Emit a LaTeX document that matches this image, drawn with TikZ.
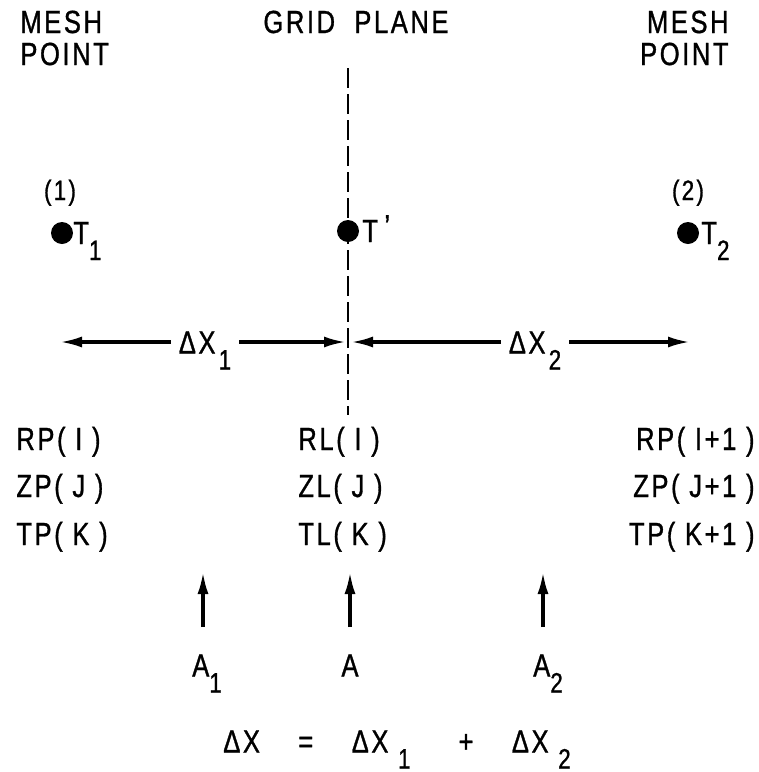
\documentclass[tikz,border=0pt]{standalone}
\usepackage{fontspec}
\setmainfont{Liberation Sans}[FakeStretch=0.8,LetterSpace=8,FakeBold=1]
\usepackage{tikz}
\usetikzlibrary{arrows.meta,positioning}
\newcommand{\lo}[1]{\smash{\raisebox{-0.5em}{\fontsize{14}{14}\selectfont #1}}}

\begin{document}
\begin{tikzpicture}[
  x=0.5pt, y=-0.5pt,
  lbl/.style={inner sep=0pt, font=\fontsize{16}{19}\selectfont},
  mid/.style={lbl, text height=11.5pt, text depth=0pt},
  dot/.style={circle, fill=black, inner sep=0pt, minimum size=11pt},
  arr/.style={-{Latex[length=11pt,width=5.5pt]}, line width=1.6pt},
  up/.style={arr, shorten <=13pt},
  plane/.style={line width=1.4pt, dash pattern=on 10pt off 3pt}
]
\useasboundingbox (0,0) rectangle (759,772);
\node[lbl, anchor=base west] (mesha)  at (20,33)  {MESH};
\node[lbl, anchor=base west] (pointa) at (20,65)  {POINT};
\node[lbl, anchor=base]      (grid)   at (356,33) {GRID\hspace{0.3em} PLANE};
\node[lbl, anchor=base east] (meshb)  at (729,33) {MESH};
\node[lbl, anchor=base east] (pointb) at (729,65) {POINT};
\coordinate (gtop) at (348,68);
\coordinate (gbot) at (348,415);
\draw[plane] (gtop) -- (gbot);
\node[dot] (p1) at (62,233)  {};
\node[dot] (pc) at (348,231) {};
\node[dot] (p2) at (688,233) {};
\node[lbl, font=\fontsize{14}{16}\selectfont, anchor=base] (n1) at (60,200)  {(1)};
\node[lbl, font=\fontsize{14}{16}\selectfont, anchor=base] (n2) at (688,200) {(2)};
\node[lbl, anchor=base west] (t1) at (73,244)  {T\lo{1}};
\node[lbl, anchor=base west] (tc) at (362,242) {T\hspace{0.2em}\raisebox{0.15em}{'}};
\node[lbl, anchor=base west] (t2) at (701,244) {T\lo{2}};
\coordinate (h1) at (60,342);
\coordinate (h2) at (346,342);
\coordinate (h3) at (351,342);
\coordinate (h4) at (690,342);
\node[mid, outer sep=4pt] (dx1) at (205,342) {ΔX\hspace{0.1em}\lo{1}};
\node[mid, outer sep=4pt] (dx2) at (535,342) {ΔX\hspace{0.1em}\lo{2}};
\draw[arr] (dx1.west) -- (h1);
\draw[arr] (dx1.east) -- (h2);
\draw[arr] (dx2.west) -- (h3);
\draw[arr] (dx2.east) -- (h4);
\node[lbl, anchor=base west] (rp) at (16,450) {RP( I )};
\node[lbl, anchor=base west] (zp) at (16,497) {ZP( J )};
\node[lbl, anchor=base west] (tp) at (16,545) {TP( K )};
\node[lbl, anchor=base west] (rl) at (298,450) {RL( I )};
\node[lbl, anchor=base west] (zl) at (298,497) {ZL( J )};
\node[lbl, anchor=base west] (tl) at (298,545) {TL( K )};
\node[lbl, anchor=base east] (rq) at (755,450) {RP( I+1 )};
\node[lbl, anchor=base east] (zq) at (755,497) {ZP( J+1 )};
\node[lbl, anchor=base east] (tq) at (755,545) {TP( K+1 )};
\coordinate (u1) at (203,572);
\coordinate (uc) at (350,572);
\coordinate (u2) at (543,572);
\node[mid] (a1) at (207,665) {A\lo{1}};
\node[mid] (ac) at (350,665) {A};
\node[mid] (a2) at (548,665) {A\lo{2}};
\draw[up] (a1.north -| u1) -- (u1);
\draw[up] (ac.north) -- (uc);
\draw[up] (a2.north -| u2) -- (u2);
\node[mid] (sum) at (397,741) {ΔX\hspace{1.2em}=\hspace{1.2em}ΔX\hspace{0.3em}\lo{1}\hspace{1.5em}+\hspace{1.2em}ΔX\hspace{0.3em}\lo{2}};
\end{tikzpicture}
\end{document}
